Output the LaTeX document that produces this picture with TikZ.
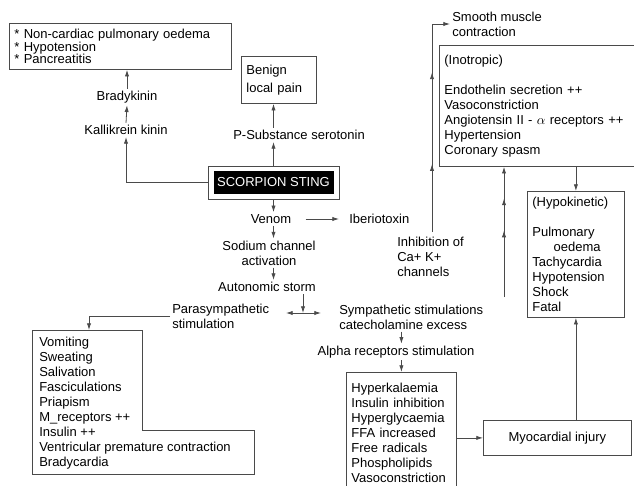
\documentclass[tikz,border=0pt]{standalone}
\usepackage{fontspec}
\setmainfont{Liberation Sans}
\usepackage{amsmath}
\usepackage{tikz}
\usetikzlibrary{arrows.meta,positioning,calc,decorations.markings}
\definecolor{linegray}{HTML}{4A4A4A}
\newcommand{\pxu}{0.75pt}
\newcommand{\lblfont}{\fontsize{9.75}{11.25}\selectfont}
\tikzset{
  lbl/.style={font=\lblfont, inner sep=1.5pt, align=center},
  box/.style={draw=linegray, line width=0.6pt, anchor=north west, font=\lblfont, align=left, inner xsep=5*\pxu, inner ysep=0pt},
  arr/.style={color=linegray, line width=0.6pt, -{Latex[length=5pt,width=3.2pt]}},
  midarr/.style={postaction={decorate, decoration={markings, mark=at position #1 with {\arrow{Latex[length=5pt,width=3.2pt]}}}}},
}

\begin{document}
\begin{tikzpicture}[x=0.75pt,y=-0.75pt]
  \useasboundingbox (0,0) rectangle (634,485); % 図全体の範囲（参照画像と同じ比率）
  \node[box, minimum width=222*\pxu, minimum height=46*\pxu, text width=212*\pxu, font={\fontsize{9.75}{9.6}\selectfont}] (oedbox) at (9,23)
    {{*} Non-cardiac pulmonary oedema\\{*} Hypotension\\{*} Pancreatitis}; % 左上の症状の枠
  \node[lbl] (brady) at (127,97) {Bradykinin}; % ブラジキニン
  \node[lbl] (kall) at (126,130) {Kallikrein kinin}; % カリクレイン
  \node[box, minimum width=75*\pxu, minimum height=47*\pxu, text width=65*\pxu] (painbox) at (241,56) {Benign\\[2.5pt]local pain}; % 局所の痛みの枠
  \node[lbl, anchor=west] (psub) at (231,135) {P-Substance serotonin}; % P物質
  \node[draw=linegray, line width=0.6pt, minimum width=131*\pxu, minimum height=33*\pxu] (stingframe) at (273.5,182.5) {}; % 中心の外枠
  \node[fill=black, text=white, font=\lblfont, minimum width=120*\pxu, minimum height=23*\pxu, inner sep=0pt] (sting) at (stingframe.center) {SCORPION STING}; % 黒地に白文字
  \node[lbl] (venom) at (271,219) {Venom};
  \node[lbl, anchor=west] (ibt) at (347,219) {Iberiotoxin};
  \node[lbl] (sodium) at (269,253) {Sodium channel\\activation};
  \node[lbl] (storm) at (267,287) {Autonomic storm};
  \coordinate (junc) at (303,313); % 分岐点
  \coordinate (jl) at (286,313);
  \coordinate (jr) at (321,313);
  \node[lbl, anchor=west, align=left] (para) at (170,316.5) {Parasympathetic\\stimulation}; % 副交感神経側
  \node[lbl, anchor=west, align=left] (symp) at (337,317) {Sympathetic stimulations\\catecholamine excess}; % 交感神経側
  \node[lbl] (alpha) at (396,352) {Alpha receptors stimulation};
  \draw[linegray, line width=0.6pt] (32,330) -- (142,330) -- (142,430) -- (254,430) -- (254,474) -- (32,474) -- cycle; % L字形の枠
  \coordinate (paratop) at (89,330);
  \node[lbl, anchor=west, align=left, inner sep=0pt] (paralist) at (39,403)
    {Vomiting\\Sweating\\Salivation\\Fasciculations\\Priapism\\M\_receptors ++\\Insulin ++\\Ventricular premature contraction\\Bradycardia}; % 副交感神経の症状
  \node[box, minimum width=110*\pxu, minimum height=120*\pxu, text width=100*\pxu] (hyperbox) at (346,372)
    {Hyperkalaemia\\Insulin inhibition\\Hyperglycaemia\\FFA increased\\Free radicals\\Phospholipids\\Vasoconstriction}; % 下端は画像の外まで伸びる
  \node[box, minimum width=148*\pxu, minimum height=35*\pxu, align=center, inner xsep=0pt] (myobox) at (483,420) {Myocardial injury};
  \node[box, minimum width=97*\pxu, minimum height=126*\pxu, text width=87*\pxu] (hypobox) at (527,191)
    {(Hypokinetic)\\[11pt]Pulmonary\\\hspace*{16pt}oedema\\Tachycardia\\Hypotension\\Shock\\Fatal};
  \node[box, minimum width=205*\pxu, minimum height=121*\pxu, text width=195*\pxu] (inobox) at (439,45)
    {(Inotropic)\\[11pt]Endothelin secretion ++\\Vasoconstriction\\Angiotensin II - $\alpha$ receptors ++\\Hypertension\\Coronary spasm}; % 右端は画像の外
  \node[lbl, anchor=west, align=left] (inh) at (395,257) {Inhibition of\\Ca+ K+\\channels};
  \node[lbl, anchor=west, align=left] (smooth) at (450,24) {Smooth muscle\\contraction};
  \coordinate (inhtop) at (432,232); % 縦線の下端
  \coordinate (cardup) at (504,297);

  \draw[arr] (stingframe.west) -| (kall.south);
  \draw[arr] (kall.north) -- (brady.south);
  \draw[arr] (brady.north) -- (brady.north |- oedbox.south);
  \draw[arr] (stingframe.north) -- (stingframe.north |- psub.south);
  \draw[arr] (psub.north -| stingframe.north) -- (painbox.south -| stingframe.north);
  \draw[arr] (stingframe.south) -- (stingframe.south |- venom.north);
  \draw[arr] ([xshift=9pt]venom.east) -- ([xshift=-6pt]ibt.west);
  \draw[arr] (venom.south -| stingframe.south) -- (sodium.north -| stingframe.south);
  \draw[arr] (sodium.south -| stingframe.south) -- (storm.north -| stingframe.south);
  \draw[arr] (storm.south -| junc) -- (junc);
  \draw[arr, {Latex[length=5pt,width=3.2pt]}-{Latex[length=5pt,width=3.2pt]}] (jl) -- (jr); % 左右への両矢印
  \draw[arr] (para.west) -| (paratop);
  \draw[arr] (symp.south -| hyperbox.north) -- (alpha.north -| hyperbox.north);
  \draw[arr] (alpha.south -| hyperbox.north) -- (hyperbox.north);
  \draw[arr] (myobox.west -| hyperbox.east) -- (myobox.west);
  \draw[arr] (myobox.north -| hypobox.south) -- (hypobox.south);
  \draw[arr] (inobox.south -| hypobox.north) -- (hypobox.north);
  \draw[arr, midarr=0.51, midarr=0.756] (cardup) -- (cardup |- inobox.south); % 途中に矢印が二つ
  \draw[arr, midarr=0.30, midarr=0.706] (inhtop) |- (smooth.west);
\end{tikzpicture}
\end{document}
